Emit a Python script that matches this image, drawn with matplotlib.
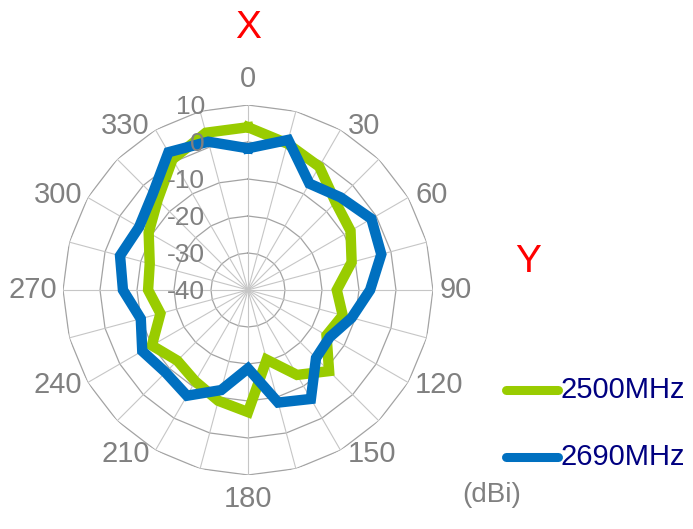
#!/usr/bin/env python3
"""Radar plot of antenna gain pattern at 2500 / 2690 MHz."""

import matplotlib

matplotlib.use('Agg')
import matplotlib.pyplot as plt
import numpy as np

plt.rcParams['font.family'] = ['Liberation Sans', 'DejaVu Sans']

# Data (dBi every 15 degrees)
angles_deg = [0, 15, 30, 45, 60, 75, 90, 105, 120, 135, 150, 165,
              180, 195, 210, 225, 240, 255, 270, 285, 300, 315, 330, 345]
gain_2500 = [4, 1, -1.5, -6.5, -8, -11, -16, -13.5, -15.5, -9, -13.5, -20.5,
             -7, -9, -11.5, -13, -10, -15.5, -13, -12.5, -9, -5.5, 0.8, 4]
gain_2690 = [-1.7, 2, -6.8, -4.6, -1.5, -2.7, -7, -11, -14.5, -14, -6, -8.5,
             -18.8, -12, -7, -8.5, -7, -10, -6.2, -4.2, -6, -3.5, 3, 1.5]
ring_values = [-40, -30, -20, -10, 0, 10]
label_angles = [0, 30, 60, 90, 120, 150, 180, 210, 240, 270, 300, 330]

GREEN = '#99CC00'
BLUE = '#0070C0'
GRAY = '#808080'

fig = plt.figure(figsize=(6.93, 5.29), dpi=100)
ax = fig.add_axes([0.0909, 0.1021, 0.5339, 0.6994], projection='polar')
ax.set_theta_zero_location('N')
ax.set_theta_direction(-1)
ax.set_ylim(-40, 10)
ax.grid(False)
ax.spines['polar'].set_visible(False)
ax.set_yticks([])
ax.set_xticks([])

theta = np.deg2rad(angles_deg)
theta_closed = np.append(theta, theta[0])

# polygon rings and spokes
for v in ring_values[1:]:
    ax.plot(theta_closed, [v] * len(theta_closed), color='#A3A3A3', lw=0.9, zorder=1)
for t in theta:
    ax.plot([t, t], [-40, 10], color='#C6C6C6', lw=0.8, zorder=1)

# data series
for vals, color in [(gain_2500, GREEN), (gain_2690, BLUE)]:
    ax.plot(theta_closed, vals + vals[:1], color=color, lw=7.5,
            solid_joinstyle='miter', zorder=3)

# radial labels
for v in ring_values:
    ax.annotate(str(v), xy=(0, v), xytext=(-31, -1.5), textcoords='offset points',
                ha='right', va='center', fontsize=19, color=GRAY, zorder=4)

# angle labels, placed Excel-style beside the outer vertices
for a in label_angles:
    t = np.deg2rad(a)
    if a == 0:
        off, ha, va = (0, 9), 'center', 'bottom'
    elif a == 180:
        off, ha, va = (0, -7), 'center', 'top'
    elif a < 180:
        off, ha, va = (5, 3 * np.cos(t)), 'left', 'center'
    else:
        off, ha, va = (-4, 3 * np.cos(t)), 'right', 'center'
    ax.annotate(str(a), xy=(t, 10), xytext=off, textcoords='offset points',
                ha=ha, va=va, fontsize=21, color=GRAY, annotation_clip=False)

fig.text(248 / 693, 1 - 28 / 529, 'X', color='red', fontsize=28,
         ha='center', va='center')
fig.text(528 / 693, 1 - 262 / 529, 'Y', color='red', fontsize=28,
         ha='center', va='center')

# legend
leg_items = [('2500MHz', GREEN, 390), ('2690MHz', BLUE, 457)]
for label, color, ypx in leg_items:
    y = 1 - ypx / 529
    fig.add_artist(plt.Line2D([506 / 693, 558 / 693], [y, y], color=color,
                              lw=6.5, solid_capstyle='round'))
    fig.text(561 / 693, y, label, color='#000080', fontsize=21,
             ha='left', va='center')

fig.text(492 / 693, 1 - 495 / 529, '(dBi)', color=GRAY, fontsize=20,
         ha='center', va='center')

fig.savefig('out.png', dpi=100)
